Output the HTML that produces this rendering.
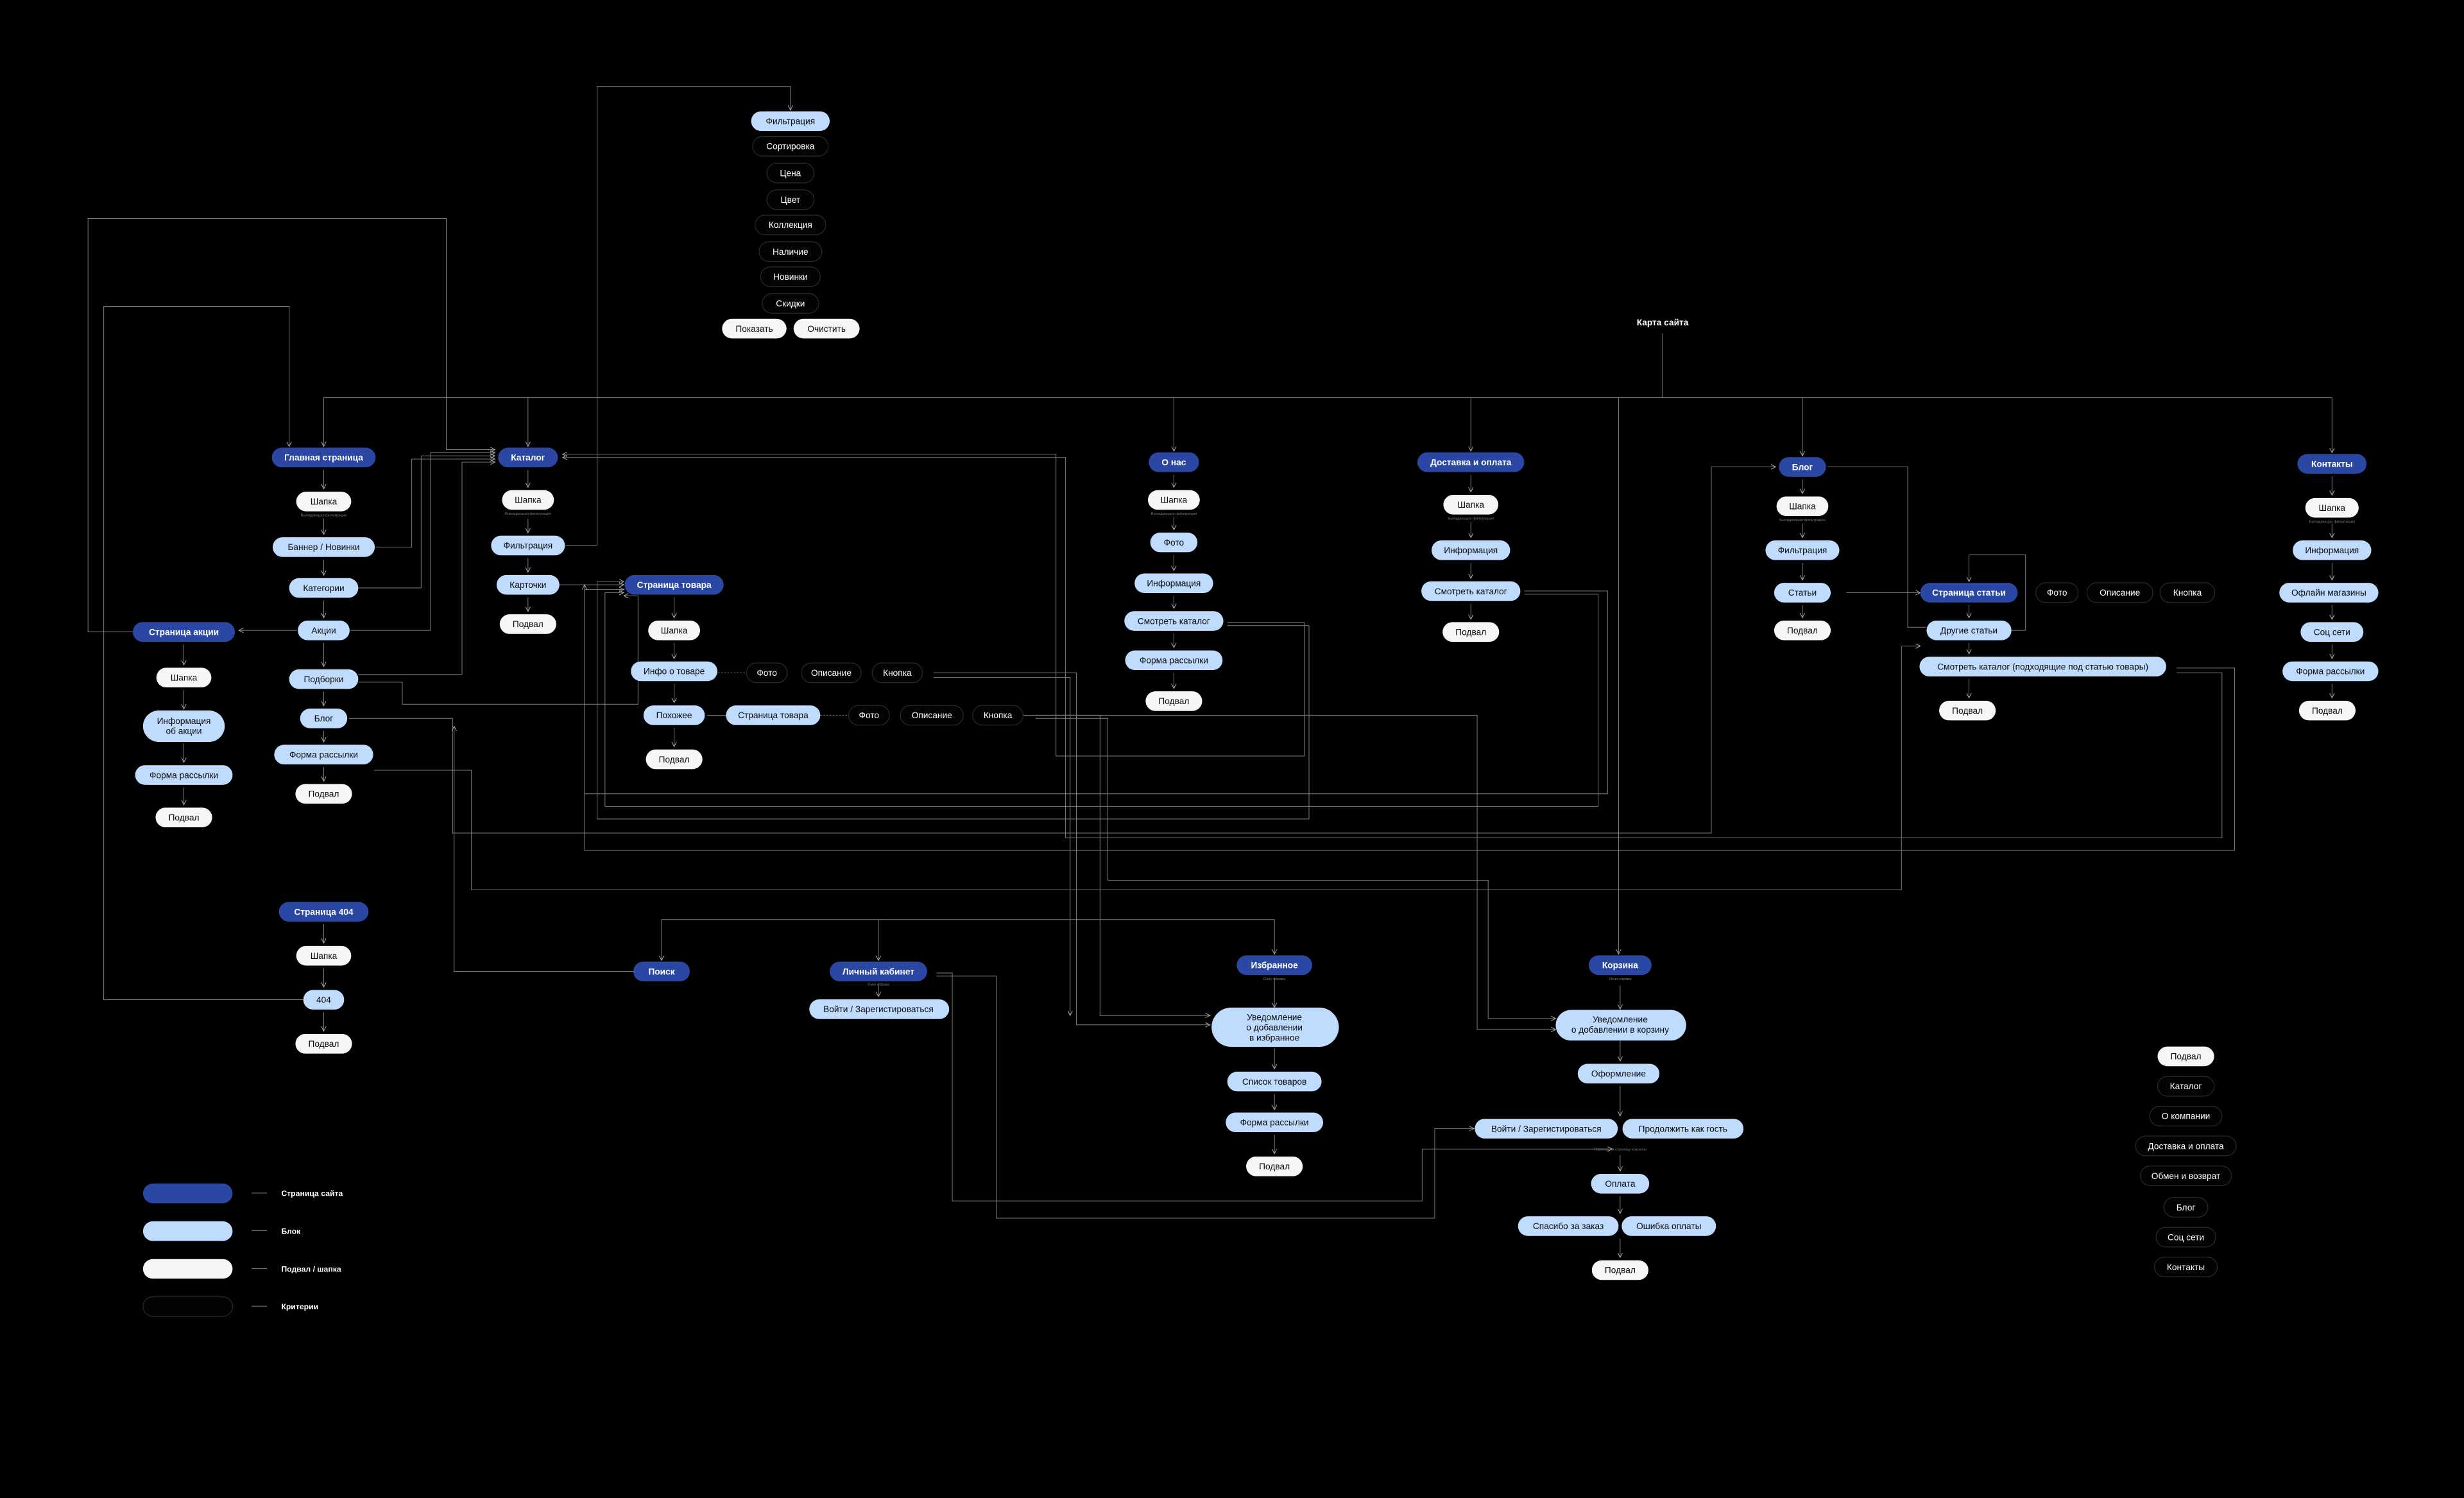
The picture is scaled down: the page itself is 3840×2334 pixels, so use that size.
<!DOCTYPE html>
<html><head><meta charset="utf-8">
<style>
html,body{margin:0;padding:0;background:#000;}
svg{display:block;}
text{font-family:"Liberation Sans",sans-serif;font-size:5.6px;text-anchor:middle;}
.D rect{fill:#2a47a4;} .D text{fill:#fff;font-weight:bold;}
.L rect{fill:#bfdbfe;} .L text{fill:#0a0a0a;}
.W rect{fill:#f6f6f6;} .W text{fill:#0a0a0a;}
.O rect{fill:#030303;stroke:#2a2a2a;stroke-width:0.5;} .O text{fill:#fff;}
.s{font-size:2.4px;fill:#7a7a7a;}
path,line{fill:none;stroke:#808080;stroke-width:0.4;}
.a{marker-end:url(#ar);}
</style></head><body>
<svg width="3840" height="2334" viewBox="0 0 1568 953" xmlns="http://www.w3.org/2000/svg">
<defs><marker id="ar" markerWidth="4" markerHeight="4" refX="3" refY="2" orient="auto" markerUnits="userSpaceOnUse"><path d="M0,0.5 L3,2 L0,3.5" style="stroke:#aaa;stroke-width:0.4;fill:none"/></marker></defs>
<rect width="1568" height="953" fill="#000"/>

<g>
<path d="M1058,212 V253"/>
<path d="M206,253 H1484"/>
<path class="a" d="M206,253 V284"/>
<path class="a" d="M336,253 V284"/>
<path class="a" d="M747,253 V287"/>
<path class="a" d="M936,253 V287"/>
<path class="a" d="M1147,253 V290"/>
<path class="a" d="M1484,253 V288"/>
<path class="a" d="M1030,253 V607"/>
<path d="M421,585 H811"/>
<path class="a" d="M421,585 V611"/>
<path class="a" d="M559,585 V611"/>
<path class="a" d="M811,585 V607"/>
</g>

<g>
<path class="a" d="M206,299 V311"/><path class="a" d="M206,330 V340"/><path class="a" d="M206,356 V366"/><path class="a" d="M206,382 V393"/><path class="a" d="M206,409 V424"/><path class="a" d="M206,440 V449"/><path class="a" d="M206,465 V472"/><path class="a" d="M206,488 V497"/>
<path class="a" d="M117,410 V423"/><path class="a" d="M117,439 V451"/><path class="a" d="M117,473 V485"/><path class="a" d="M117,501 V512"/>
<path class="a" d="M206,588 V600"/><path class="a" d="M206,616 V628"/><path class="a" d="M206,644 V656"/>
<path class="a" d="M336,299 V310"/><path class="a" d="M336,330 V339"/><path class="a" d="M336,355 V364"/><path class="a" d="M336,380 V389"/>
<path class="a" d="M429,380 V393"/><path class="a" d="M429,409 V419"/><path class="a" d="M429,435 V447"/><path class="a" d="M429,463 V475"/>
<path class="a" d="M747,302 V310"/><path class="a" d="M747,329 V337"/><path class="a" d="M747,353 V363"/><path class="a" d="M747,379 V387"/><path class="a" d="M747,403 V412"/><path class="a" d="M747,428 V438"/>
<path class="a" d="M936,302 V313"/><path class="a" d="M936,332 V342"/><path class="a" d="M936,358 V368"/><path class="a" d="M936,384 V394"/>
<path class="a" d="M1147,305 V314"/><path class="a" d="M1147,333 V342"/><path class="a" d="M1147,358 V369"/><path class="a" d="M1147,385 V393"/>
<path class="a" d="M1253,385 V393"/><path class="a" d="M1253,409 V416"/><path class="a" d="M1253,432 V444"/>
<path class="a" d="M1484,303 V315"/><path class="a" d="M1484,333 V342"/><path class="a" d="M1484,358 V369"/><path class="a" d="M1484,385 V394"/><path class="a" d="M1484,410 V419"/><path class="a" d="M1484,435 V444"/>
<path class="a" d="M811,622 V641"/><path class="a" d="M811,667 V680"/><path class="a" d="M811,696 V706"/><path class="a" d="M811,722 V734"/>
<path class="a" d="M1031,627 V642"/><path class="a" d="M1031,662 V675"/><path class="a" d="M1031,691 V710"/><path class="a" d="M1031,735 V745"/><path class="a" d="M1031,761 V772"/><path class="a" d="M1031,788 V800"/>
<path class="a" d="M559,626 V634"/>
</g>

<g>
<path class="a" d="M85,402 H56 V139 H284 V286 H315"/>
<path class="a" d="M193,636 H66 V195 H184 V284"/>
<path class="a" d="M189,401 H152"/>
<path class="a" d="M360,347 H380 V55 H503 V70"/>
<path class="a" d="M239,348 H262 V292 H315"/>
<path class="a" d="M228,374 H268 V290 H315"/>
<path class="a" d="M223,401 H274 V288 H315"/>
<path class="a" d="M228,429 H294 V294 H315"/>
<path class="a" d="M228,434 H256 V448 H406 V379 H397"/>
<path class="a" d="M222,457 H288 V530 H1089 V297 H1130"/>
<path class="a" d="M238,490 H300 V566 H1210 V411 H1222"/>
<path class="a" d="M356,372 H397"/>
<path class="a" d="M410,618 H289 V462"/>
<path d="M455,428 H474" style="stroke-dasharray:1 1"/>
<path d="M450,455 H462"/>
<path d="M522,455 H540" style="stroke-dasharray:1 1"/>
<path class="a" d="M781,396 H830 V481 H672 V289 H358"/>
<path class="a" d="M781,398 H833 V521 H380 V370 H397"/>
<path class="a" d="M970,376 H1023 V505 H372 V375 H397"/>
<path class="a" d="M970,378 H1017 V513 H385 V377 H397"/>
<path class="a" d="M1385,425 H1422 V541 H372 V372"/>
<path class="a" d="M1385,428 H1414 V533 H678 V291 H358"/>
<path class="a" d="M594,428 H685 V652 H770"/>
<path class="a" d="M594,431 H681 V646"/>
<path class="a" d="M659,455 H700 V646 H770"/>
<path class="a" d="M659,457 H705 V560 H947 V648 H990"/>
<path class="a" d="M620,455 H940 V655 H990"/>
<path class="a" d="M1175,377 H1222"/>
<path d="M1163,297 H1214 V399 H1226"/>
<path class="a" d="M1280,401 H1289 V353 H1253 V370"/>
<path class="a" d="M596,619 H606 V764 H905 V731 H1026"/>
<path class="a" d="M596,621 H634 V775 H913 V718 H938"/>
<path d="M160,759 H170"/><path d="M160,783 H170"/><path d="M160,807 H170"/><path d="M160,831 H170"/>
</g>

<g class="L"><rect x="478" y="70.8" width="50" height="12.5" rx="6.25"/><text x="503" y="79">Фильтрация</text></g>
<g class="O"><rect x="479" y="86.8" width="48" height="12.5" rx="6.25"/><text x="503" y="95">Сортировка</text></g>
<g class="O"><rect x="488" y="103.8" width="30" height="12.5" rx="6.25"/><text x="503" y="112">Цена</text></g>
<g class="O"><rect x="488" y="120.8" width="30" height="12.5" rx="6.25"/><text x="503" y="129">Цвет</text></g>
<g class="O"><rect x="480.5" y="136.8" width="45" height="12.5" rx="6.25"/><text x="503" y="145">Коллекция</text></g>
<g class="O"><rect x="483" y="153.8" width="40" height="12.5" rx="6.25"/><text x="503" y="162">Наличие</text></g>
<g class="O"><rect x="484" y="169.8" width="38" height="12.5" rx="6.25"/><text x="503" y="178">Новинки</text></g>
<g class="O"><rect x="485" y="186.8" width="36" height="12.5" rx="6.25"/><text x="503" y="195">Скидки</text></g>
<g class="W"><rect x="459.5" y="202.8" width="41" height="12.5" rx="6.25"/><text x="480" y="211">Показать</text></g>
<g class="W"><rect x="505" y="202.8" width="42" height="12.5" rx="6.25"/><text x="526" y="211">Очистить</text></g>
<text x="1058" y="207" style="fill:#fff;font-weight:bold">Карта сайта</text>

<g class="D"><rect x="173" y="284.8" width="66" height="12.5" rx="6.25"/><text x="206" y="293">Главная страница</text></g>
<g class="W"><rect x="188.5" y="312.8" width="35" height="12.5" rx="6.25"/><text x="206" y="321">Шапка</text></g>
<text class="s" x="206" y="328.5">Выпадающая фильтрация</text>
<g class="L"><rect x="173.5" y="341.8" width="65" height="12.5" rx="6.25"/><text x="206" y="350">Баннер / Новинки</text></g>
<g class="L"><rect x="184" y="367.8" width="44" height="12.5" rx="6.25"/><text x="206" y="376">Категории</text></g>
<g class="L"><rect x="189.5" y="394.8" width="33" height="12.5" rx="6.25"/><text x="206" y="403">Акции</text></g>
<g class="L"><rect x="184" y="425.8" width="44" height="12.5" rx="6.25"/><text x="206" y="434">Подборки</text></g>
<g class="L"><rect x="191" y="450.8" width="30" height="12.5" rx="6.25"/><text x="206" y="459">Блог</text></g>
<g class="L"><rect x="174.5" y="473.8" width="63" height="12.5" rx="6.25"/><text x="206" y="482">Форма рассылки</text></g>
<g class="W"><rect x="188" y="498.8" width="36" height="12.5" rx="6.25"/><text x="206" y="507">Подвал</text></g>

<g class="D"><rect x="84.5" y="395.8" width="65" height="12.5" rx="6.25"/><text x="117" y="404">Страница акции</text></g>
<g class="W"><rect x="99.5" y="424.8" width="35" height="12.5" rx="6.25"/><text x="117" y="433">Шапка</text></g>
<g class="L"><rect x="91" y="452" width="52" height="20" rx="10"/><text x="117" y="460.5">Информация</text><text x="117" y="467">об акции</text></g>
<g class="L"><rect x="86" y="486.8" width="62" height="12.5" rx="6.25"/><text x="117" y="495">Форма рассылки</text></g>
<g class="W"><rect x="99" y="513.8" width="36" height="12.5" rx="6.25"/><text x="117" y="522">Подвал</text></g>

<g class="D"><rect x="177.5" y="573.8" width="57" height="12.5" rx="6.25"/><text x="206" y="582">Страница 404</text></g>
<g class="W"><rect x="188.5" y="601.8" width="35" height="12.5" rx="6.25"/><text x="206" y="610">Шапка</text></g>
<g class="L"><rect x="193" y="629.8" width="26" height="12.5" rx="6.25"/><text x="206" y="638">404</text></g>
<g class="W"><rect x="188" y="657.8" width="36" height="12.5" rx="6.25"/><text x="206" y="666">Подвал</text></g>

<g class="D"><rect x="317" y="284.8" width="38" height="12.5" rx="6.25"/><text x="336" y="293">Каталог</text></g>
<g class="W"><rect x="319.5" y="311.8" width="33" height="12.5" rx="6.25"/><text x="336" y="320">Шапка</text></g>
<text class="s" x="336" y="327.5">Выпадающая фильтрация</text>
<g class="L"><rect x="312.5" y="340.8" width="47" height="12.5" rx="6.25"/><text x="336" y="349">Фильтрация</text></g>
<g class="L"><rect x="316" y="365.8" width="40" height="12.5" rx="6.25"/><text x="336" y="374">Карточки</text></g>
<g class="W"><rect x="318" y="390.8" width="36" height="12.5" rx="6.25"/><text x="336" y="399">Подвал</text></g>

<g class="D"><rect x="397.5" y="365.8" width="63" height="12.5" rx="6.25"/><text x="429" y="374">Страница товара</text></g>
<g class="W"><rect x="412.5" y="394.8" width="33" height="12.5" rx="6.25"/><text x="429" y="403">Шапка</text></g>
<g class="L"><rect x="401.5" y="420.8" width="55" height="12.5" rx="6.25"/><text x="429" y="429">Инфо о товаре</text></g>
<g class="L"><rect x="409.5" y="448.8" width="39" height="12.5" rx="6.25"/><text x="429" y="457">Похожее</text></g>
<g class="W"><rect x="411" y="476.8" width="36" height="12.5" rx="6.25"/><text x="429" y="485">Подвал</text></g>
<g class="O"><rect x="475" y="421.8" width="26" height="12.5" rx="6.25"/><text x="488" y="430">Фото</text></g>
<g class="O"><rect x="510" y="421.8" width="38" height="12.5" rx="6.25"/><text x="529" y="430">Описание</text></g>
<g class="O"><rect x="555" y="421.8" width="32" height="12.5" rx="6.25"/><text x="571" y="430">Кнопка</text></g>
<g class="L"><rect x="462" y="448.8" width="60" height="12.5" rx="6.25"/><text x="492" y="457">Страница товара</text></g>
<g class="O"><rect x="540" y="448.8" width="26" height="12.5" rx="6.25"/><text x="553" y="457">Фото</text></g>
<g class="O"><rect x="573" y="448.8" width="40" height="12.5" rx="6.25"/><text x="593" y="457">Описание</text></g>
<g class="O"><rect x="619" y="448.8" width="32" height="12.5" rx="6.25"/><text x="635" y="457">Кнопка</text></g>

<g class="D"><rect x="731" y="287.8" width="32" height="12.5" rx="6.25"/><text x="747" y="296">О нас</text></g>
<g class="W"><rect x="730.5" y="311.8" width="33" height="12.5" rx="6.25"/><text x="747" y="320">Шапка</text></g>
<text class="s" x="747" y="327.5">Выпадающая фильтрация</text>
<g class="L"><rect x="732" y="338.8" width="30" height="12.5" rx="6.25"/><text x="747" y="347">Фото</text></g>
<g class="L"><rect x="722" y="364.8" width="50" height="12.5" rx="6.25"/><text x="747" y="373">Информация</text></g>
<g class="L"><rect x="715.5" y="388.8" width="63" height="12.5" rx="6.25"/><text x="747" y="397">Смотреть каталог</text></g>
<g class="L"><rect x="716" y="413.8" width="62" height="12.5" rx="6.25"/><text x="747" y="422">Форма рассылки</text></g>
<g class="W"><rect x="729" y="439.8" width="36" height="12.5" rx="6.25"/><text x="747" y="448">Подвал</text></g>

<g class="D"><rect x="902" y="287.8" width="68" height="12.5" rx="6.25"/><text x="936" y="296">Доставка и оплата</text></g>
<g class="W"><rect x="918.5" y="314.8" width="35" height="12.5" rx="6.25"/><text x="936" y="323">Шапка</text></g>
<text class="s" x="936" y="330.5">Выпадающая фильтрация</text>
<g class="L"><rect x="911" y="343.8" width="50" height="12.5" rx="6.25"/><text x="936" y="352">Информация</text></g>
<g class="L"><rect x="904.5" y="369.8" width="63" height="12.5" rx="6.25"/><text x="936" y="378">Смотреть каталог</text></g>
<g class="W"><rect x="918" y="395.8" width="36" height="12.5" rx="6.25"/><text x="936" y="404">Подвал</text></g>

<g class="D"><rect x="1132" y="290.8" width="30" height="12.5" rx="6.25"/><text x="1147" y="299">Блог</text></g>
<g class="W"><rect x="1130.5" y="315.8" width="33" height="12.5" rx="6.25"/><text x="1147" y="324">Шапка</text></g>
<text class="s" x="1147" y="331.5">Выпадающая фильтрация</text>
<g class="L"><rect x="1123.5" y="343.8" width="47" height="12.5" rx="6.25"/><text x="1147" y="352">Фильтрация</text></g>
<g class="L"><rect x="1129" y="370.8" width="36" height="12.5" rx="6.25"/><text x="1147" y="379">Статьи</text></g>
<g class="W"><rect x="1129" y="394.8" width="36" height="12.5" rx="6.25"/><text x="1147" y="403">Подвал</text></g>

<g class="D"><rect x="1222" y="370.8" width="62" height="12.5" rx="6.25"/><text x="1253" y="379">Страница статьи</text></g>
<g class="O"><rect x="1295.5" y="370.8" width="27" height="12.5" rx="6.25"/><text x="1309" y="379">Фото</text></g>
<g class="O"><rect x="1328" y="370.8" width="42" height="12.5" rx="6.25"/><text x="1349" y="379">Описание</text></g>
<g class="O"><rect x="1374.5" y="370.8" width="35" height="12.5" rx="6.25"/><text x="1392" y="379">Кнопка</text></g>
<g class="L"><rect x="1226" y="394.8" width="54" height="12.5" rx="6.25"/><text x="1253" y="403">Другие статьи</text></g>
<g class="L"><rect x="1221.5" y="417.8" width="157" height="12.5" rx="6.25"/><text x="1300" y="426">Смотреть каталог (подходящие под статью товары)</text></g>
<g class="W"><rect x="1234" y="445.8" width="36" height="12.5" rx="6.25"/><text x="1252" y="454">Подвал</text></g>

<g class="D"><rect x="1462" y="288.8" width="44" height="12.5" rx="6.25"/><text x="1484" y="297">Контакты</text></g>
<g class="W"><rect x="1467" y="316.8" width="34" height="12.5" rx="6.25"/><text x="1484" y="325">Шапка</text></g>
<text class="s" x="1484" y="332.5">Выпадающая фильтрация</text>
<g class="L"><rect x="1459" y="343.8" width="50" height="12.5" rx="6.25"/><text x="1484" y="352">Информация</text></g>
<g class="L"><rect x="1450.5" y="370.8" width="63" height="12.5" rx="6.25"/><text x="1482" y="379">Офлайн магазины</text></g>
<g class="L"><rect x="1464" y="395.8" width="40" height="12.5" rx="6.25"/><text x="1484" y="404">Соц сети</text></g>
<g class="L"><rect x="1452.5" y="420.8" width="61" height="12.5" rx="6.25"/><text x="1483" y="429">Форма рассылки</text></g>
<g class="W"><rect x="1463" y="445.8" width="36" height="12.5" rx="6.25"/><text x="1481" y="454">Подвал</text></g>

<g class="D"><rect x="403" y="611.8" width="36" height="12.5" rx="6.25"/><text x="421" y="620">Поиск</text></g>
<g class="D"><rect x="528" y="611.8" width="62" height="12.5" rx="6.25"/><text x="559" y="620">Личный кабинет</text></g>
<text class="s" x="559" y="627">Окно справа</text>
<g class="L"><rect x="515" y="635.8" width="89" height="12.5" rx="6.25"/><text x="559" y="644">Войти / Зарегистироваться</text></g>

<g class="D"><rect x="787" y="607.8" width="48" height="12.5" rx="6.25"/><text x="811" y="616">Избранное</text></g>
<text class="s" x="811" y="623.5">Окно справа</text>
<g class="L"><rect x="771" y="641" width="81" height="25" rx="12.5"/><text x="811" y="649">Уведомление</text><text x="811" y="655.5">о добавлении</text><text x="811" y="662">в избранное</text></g>
<g class="L"><rect x="781" y="681.8" width="60" height="12.5" rx="6.25"/><text x="811" y="690">Список товаров</text></g>
<g class="L"><rect x="780" y="707.8" width="62" height="12.5" rx="6.25"/><text x="811" y="716">Форма рассылки</text></g>
<g class="W"><rect x="793" y="735.8" width="36" height="12.5" rx="6.25"/><text x="811" y="744">Подвал</text></g>

<g class="D"><rect x="1011" y="607.8" width="40" height="12.5" rx="6.25"/><text x="1031" y="616">Корзина</text></g>
<text class="s" x="1031" y="623.5">Окно справа</text>
<g class="L"><rect x="990" y="642.5" width="83" height="19.5" rx="9.75"/><text x="1031" y="650.5">Уведомление</text><text x="1031" y="657">о добавлении в корзину</text></g>
<g class="L"><rect x="1004" y="676.8" width="52" height="12.5" rx="6.25"/><text x="1030" y="685">Оформление</text></g>
<g class="L"><rect x="938.5" y="711.8" width="91" height="12.5" rx="6.25"/><text x="984" y="720">Войти / Зарегистироваться</text></g>
<g class="L"><rect x="1032.5" y="711.8" width="77" height="12.5" rx="6.25"/><text x="1071" y="720">Продолжить как гость</text></g>
<text class="s" x="1031" y="732">Переход на страницу корзины</text>
<g class="L"><rect x="1012.5" y="746.8" width="37" height="12.5" rx="6.25"/><text x="1031" y="755">Оплата</text></g>
<g class="L"><rect x="966" y="773.8" width="64" height="12.5" rx="6.25"/><text x="998" y="782">Спасибо за заказ</text></g>
<g class="L"><rect x="1032" y="773.8" width="60" height="12.5" rx="6.25"/><text x="1062" y="782">Ошибка оплаты</text></g>
<g class="W"><rect x="1013" y="801.8" width="36" height="12.5" rx="6.25"/><text x="1031" y="810">Подвал</text></g>

<g class="W"><rect x="1373" y="665.8" width="36" height="12.5" rx="6.25"/><text x="1391" y="674">Подвал</text></g>
<g class="O"><rect x="1373" y="684.8" width="36" height="12.5" rx="6.25"/><text x="1391" y="693">Каталог</text></g>
<g class="O"><rect x="1368" y="703.8" width="46" height="12.5" rx="6.25"/><text x="1391" y="712">О компании</text></g>
<g class="O"><rect x="1359" y="722.8" width="64" height="12.5" rx="6.25"/><text x="1391" y="731">Доставка и оплата</text></g>
<g class="O"><rect x="1362" y="741.8" width="58" height="12.5" rx="6.25"/><text x="1391" y="750">Обмен и возврат</text></g>
<g class="O"><rect x="1377" y="761.8" width="28" height="12.5" rx="6.25"/><text x="1391" y="770">Блог</text></g>
<g class="O"><rect x="1372" y="780.8" width="38" height="12.5" rx="6.25"/><text x="1391" y="789">Соц сети</text></g>
<g class="O"><rect x="1371" y="799.8" width="40" height="12.5" rx="6.25"/><text x="1391" y="808">Контакты</text></g>

<g class="D"><rect x="91" y="753" width="57" height="12.5" rx="6.25"/></g>
<g class="L"><rect x="91" y="777" width="57" height="12.5" rx="6.25"/></g>
<g class="W"><rect x="91" y="801" width="57" height="12.5" rx="6.25"/></g>
<g class="O"><rect x="91" y="825" width="57" height="12.5" rx="6.25"/></g>
<text x="179" y="761" style="fill:#fff;font-weight:bold;text-anchor:start;font-size:5px">Страница сайта</text>
<text x="179" y="785" style="fill:#fff;font-weight:bold;text-anchor:start;font-size:5px">Блок</text>
<text x="179" y="809" style="fill:#fff;font-weight:bold;text-anchor:start;font-size:5px">Подвал / шапка</text>
<text x="179" y="833" style="fill:#fff;font-weight:bold;text-anchor:start;font-size:5px">Критерии</text>
</svg>
</body></html>
